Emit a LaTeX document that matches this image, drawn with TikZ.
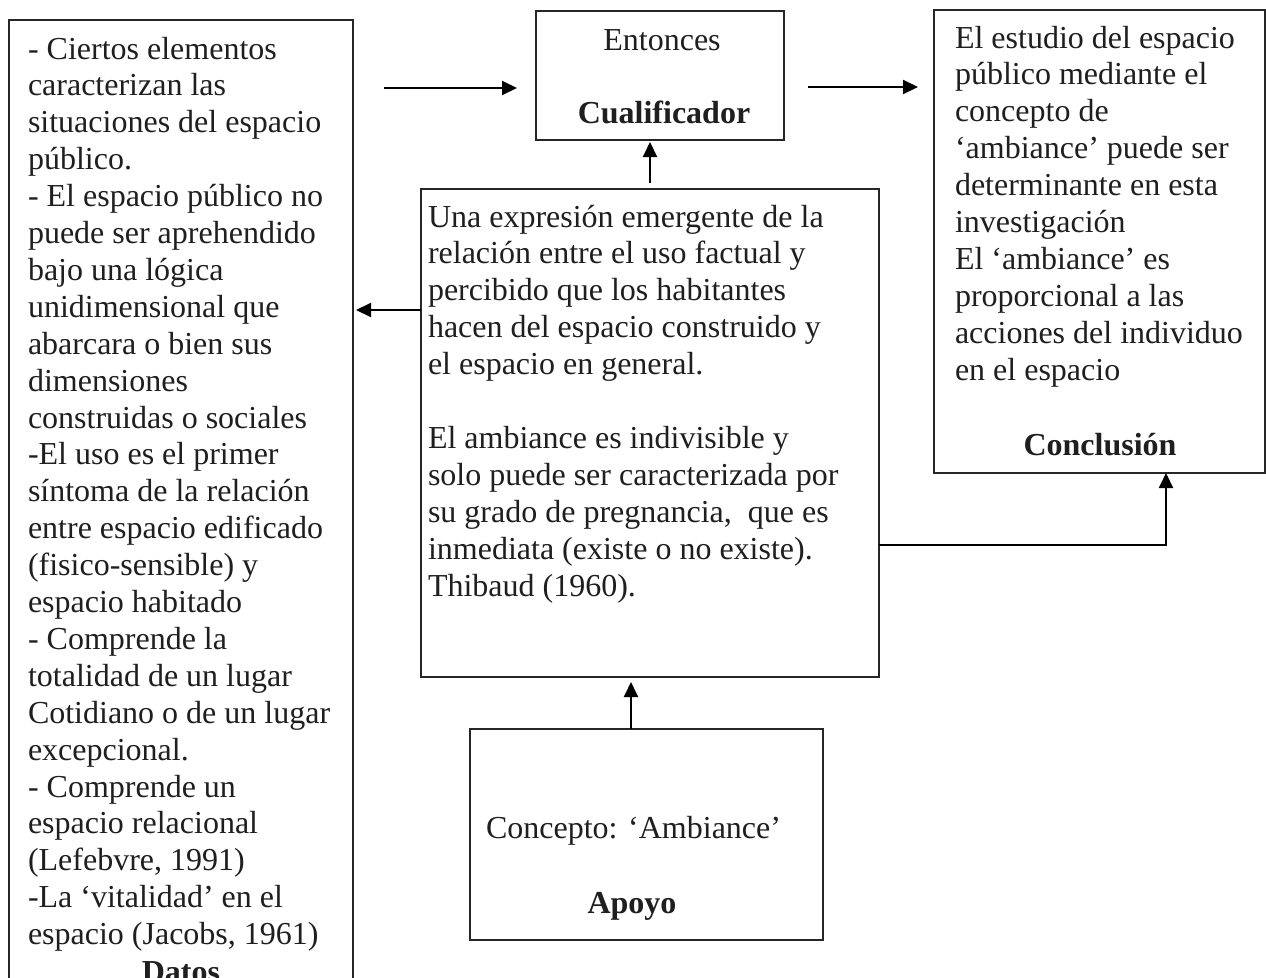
\documentclass[tikz,border=0pt]{standalone}
\usepackage{fontspec}
\setmainfont{Liberation Serif}
\usetikzlibrary{arrows.meta}
\newcommand\myfs{\fontsize{32pt}{36.9pt}\selectfont}
\begin{document}
\begin{tikzpicture}[x=1pt,y=-1pt,
  box/.style={draw=black!85, line width=1.3pt, inner sep=0pt, outer sep=0pt, anchor=north west},
  txt/.style={inner sep=0pt, outer sep=0pt, anchor=base west, text=black!88},
  lbl/.style={inner sep=0pt, outer sep=0pt, anchor=base, text=black!88, font=\myfs\bfseries},
  arr/.style={line width=2pt, -{Triangle[length=15pt,width=14pt]}}]
\useasboundingbox (0,0) rectangle (1266,977);
\clip (0,0) rectangle (1266,977);
\fill[white] (0,0) rectangle (1266,977);

% boxes
\node[box, minimum width=344pt, minimum height=1020pt] (datos) at (9,20) {};
\node[box, minimum width=248pt, minimum height=129pt] (cual) at (536,11) {};
\node[box, minimum width=331pt, minimum height=463pt] (concl) at (934,10) {};
\node[box, minimum width=458pt, minimum height=488pt] (mid) at (421,189) {};
\node[box, minimum width=353pt, minimum height=211pt] (apoyo) at (470,729) {};

% texts
\node[txt] (tdatos) at (28,59) {\parbox[t]{320pt}{\myfs\raggedright
- Ciertos elementos\\
caracterizan las\\
situaciones del espacio\\
público.\\
- El espacio público no\\
puede ser aprehendido\\
bajo una lógica\\
unidimensional que\\
abarcara o bien sus\\
dimensiones\\
construidas o sociales\\
-El uso es el primer\\
síntoma de la relación\\
entre espacio edificado\\
(fisico-sensible) y\\
espacio habitado\\
- Comprende la\\
totalidad de un lugar\\
Cotidiano o de un lugar\\
excepcional.\\
- Comprende un\\
espacio relacional\\
(Lefebvre, 1991)\\
-La ‘vitalidad’ en el\\
espacio (Jacobs, 1961)}};
\node[lbl] (ldatos) at (181,982) {Datos};

\node[txt, anchor=base, font=\myfs] (tcual) at (662,50) {Entonces};
\node[lbl] (lcual) at (664,123) {Cualificador};

\node[txt] (tconcl) at (955,48) {\parbox[t]{305pt}{\myfs\raggedright
El estudio del espacio\\
público mediante el\\
concepto de\\
‘ambiance’ puede ser\\
determinante en esta\\
investigación\\
El ‘ambiance’ es\\
proporcional a las\\
acciones del individuo\\
en el espacio}};
\node[lbl] (lconcl) at (1100,455) {Conclusión};

\node[txt] (tmid) at (428,227) {\parbox[t]{445pt}{\myfs\raggedright
Una expresión emergente de la\\
relación entre el uso factual y\\
percibido que los habitantes\\
hacen del espacio construido y\\
el espacio en general.\\[36.9pt]
El ambiance es indivisible y\\
solo puede ser caracterizada por\\
su grado de pregnancia,\ \ que es\\
inmediata (existe o no existe).\\
Thibaud (1960).}};

\node[txt, font=\myfs] (tapoyo) at (486,838) {Concepto: ‘Ambiance’};
\node[lbl] (lapoyo) at (632,913) {Apoyo};

% connectors
\coordinate (p1s) at (384,88);
\coordinate (p1e) at (517,88);
\draw[arr] (p1s) -- (p1e);

\coordinate (p2s) at (808,87);
\coordinate (p2e) at (918,87);
\draw[arr] (p2s) -- (p2e);

\draw[arr, shorten <=6pt, shorten >=2pt] (mid.north) -- (mid.north |- cual.south);

\coordinate (p4) at (421,310);
\draw[arr, shorten >=3pt] (p4) -- (p4 -| datos.east);

\coordinate (p5) at (1166,545);
\draw[arr] (p5 -| mid.east) -- (p5) -- (p5 |- concl.south);

\coordinate (p6) at (631,729);
\draw[arr, shorten >=5pt] (p6) -- (p6 |- mid.south);
\end{tikzpicture}
\end{document}
